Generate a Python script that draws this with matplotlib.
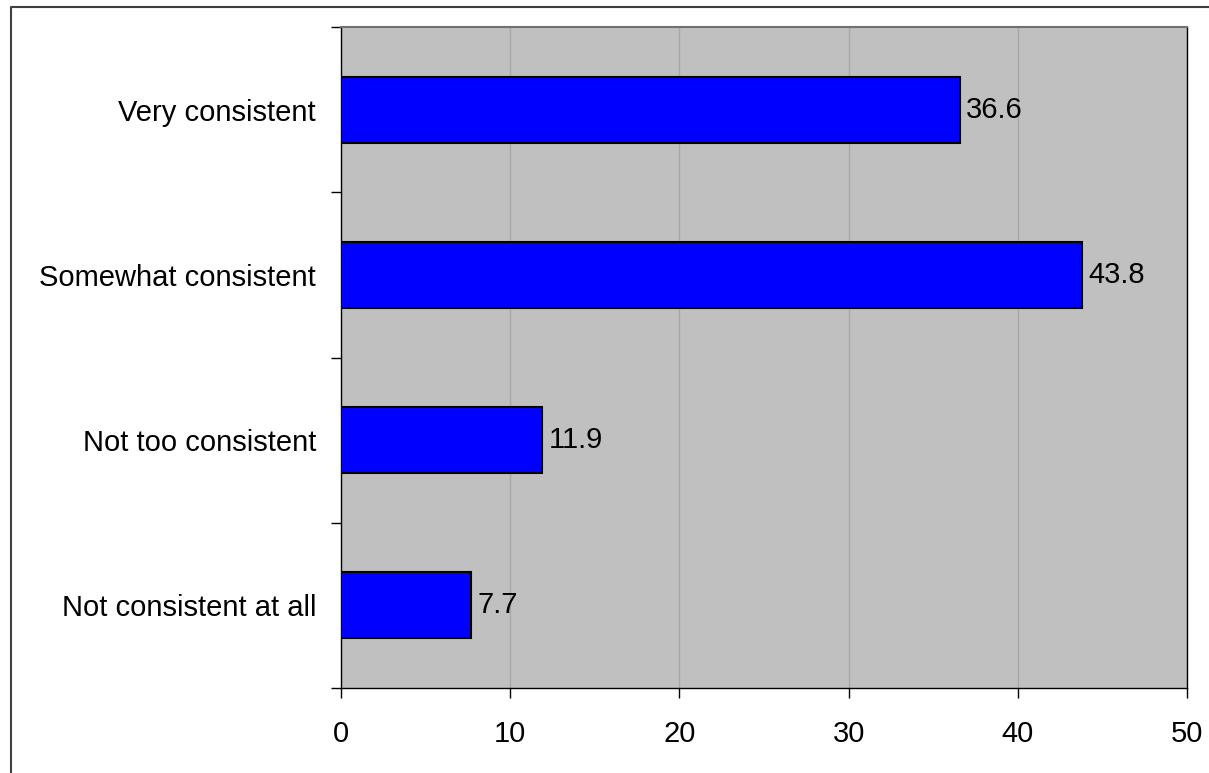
import matplotlib
matplotlib.use("Agg")
import matplotlib.pyplot as plt
from matplotlib.lines import Line2D

categories = ["Very consistent", "Somewhat consistent", "Not too consistent", "Not consistent at all"]
values = [36.6, 43.8, 11.9, 7.7]
xticks = [0, 10, 20, 30, 40, 50]

plt.rcParams['font.family'] = ['Liberation Sans', 'DejaVu Sans']

W, H = 1209, 773
FS = 21
fig = plt.figure(figsize=(W / 100, H / 100), dpi=100)
ax = fig.add_axes([341 / W, 1 - 688 / H, (1187 - 341) / W, (688 - 27) / H])

ax.set_facecolor('#C0C0C0')
ypos = list(range(len(categories)))
ax.barh(ypos, values, height=0.4, color='#0000FF', edgecolor='black', linewidth=1.5, zorder=3)
for y, v in zip(ypos, values):
    ax.annotate(f"{v}", (v, y), xytext=(6, 0), textcoords='offset pixels',
                va='center', ha='left', fontsize=FS, zorder=4)

ax.set_xlim(0, 50)
ax.set_ylim(len(categories) - 0.5, -0.5)
ax.set_xticks(xticks)
ax.set_xticklabels([str(t) for t in xticks], fontsize=FS)
ax.set_yticks([i - 0.5 for i in range(len(categories) + 1)])
ax.set_yticklabels([])
ax.set_yticks(ypos, minor=True)
ax.set_yticklabels(categories, minor=True, fontsize=FS)
ax.tick_params(axis='y', which='minor', length=0, pad=25 * 0.72)
ax.tick_params(axis='y', which='major', length=7, width=1, direction='out')
ax.tick_params(axis='x', length=7, width=1, direction='out', pad=16)
ax.xaxis.grid(True, color='#A8A8A8', linewidth=1, zorder=1)
ax.set_axisbelow(True)
for s in ['left', 'bottom', 'right']:
    ax.spines[s].set_color('black')
    ax.spines[s].set_linewidth(1)
ax.spines['top'].set_color('#707070')
ax.spines['top'].set_linewidth(1.5)

# partial figure frame (left and top)
fig.add_artist(Line2D([11 / W, 11 / W, 1.0], [0.0, 1 - 7 / H, 1 - 7 / H],
                      transform=fig.transFigure, color='#404040', linewidth=1.5))

fig.savefig("out.png", dpi=100)
